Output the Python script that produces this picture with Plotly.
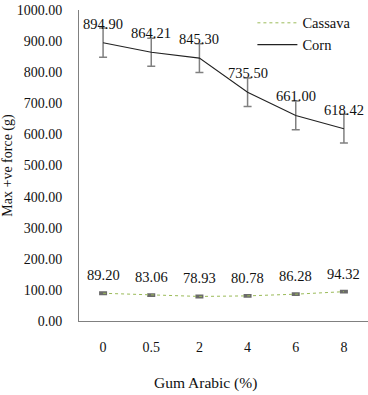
import plotly.graph_objects as go

categories = ["0", "0.5", "2", "4", "6", "8"]
cassava = [89.20, 83.06, 78.93, 80.78, 86.28, 94.32]
cassava_err = [3, 3, 3, 3, 3, 3]
corn = [894.90, 864.21, 845.30, 735.50, 661.00, 618.42]
corn_err = [47, 45, 46, 46, 46, 46]
y_ticks = [0, 100, 200, 300, 400, 500, 600, 700, 800, 900, 1000]

font = "Liberation Serif"

fig = go.Figure()
fig.add_trace(go.Scatter(
    x=categories, y=cassava, name="Cassava", mode="lines",
    line=dict(color="#9BBB59", width=1, dash="dot"),
    error_y=dict(type="data", array=cassava_err, color="#6b6b6b", thickness=2, width=4),
))
fig.add_trace(go.Scatter(
    x=categories, y=corn, name="Corn", mode="lines",
    line=dict(color="#222", width=1.1),
    error_y=dict(type="data", array=corn_err, color="#808080", thickness=1.5, width=4),
))

for series, shift in ((cassava, 8), (corn, 9)):
    for i, v in enumerate(series):
        fig.add_annotation(x=i, y=v, text=f"{v:.2f}", showarrow=False,
                           yanchor="bottom", yshift=shift,
                           font=dict(family=font, size=14.5, color="#111"))

fig.add_annotation(xref="paper", yref="paper", x=0.436, y=-0.199,
                   xanchor="center", yanchor="middle", showarrow=False,
                   text="Gum Arabic (%)", font=dict(family=font, size=15.5, color="#111"))

fig.update_layout(
    width=368, height=395,
    margin=dict(l=79, r=0, t=10, b=74),
    plot_bgcolor="white", paper_bgcolor="white",
    font=dict(family=font, size=14, color="#111"),
    showlegend=True,
    legend=dict(x=0.6, y=1.01, xanchor="left", yanchor="top",
                bgcolor="rgba(0,0,0,0)", font=dict(family=font, size=14.5),
                itemwidth=40, tracegroupgap=3),
    xaxis=dict(type="category", categoryorder="array", categoryarray=categories,
               range=[-0.5, 5.5], showgrid=False, showline=True,
               linecolor="#808080", linewidth=1, ticks="",
               ticklabelstandoff=13),
    yaxis=dict(range=[0, 1000], tickvals=y_ticks, tickformat=".2f",
               showgrid=False, showline=True, linecolor="#808080", linewidth=1,
               ticks="", ticklabelstandoff=13, zeroline=False,
               title=dict(text="Max +ve force (g)", standoff=8,
                          font=dict(family=font, size=14))),
)

fig.write_html("out.html", config={"displayModeBar": False},
               post_script="document.body.style.margin='0';document.body.style.overflow='hidden';")
